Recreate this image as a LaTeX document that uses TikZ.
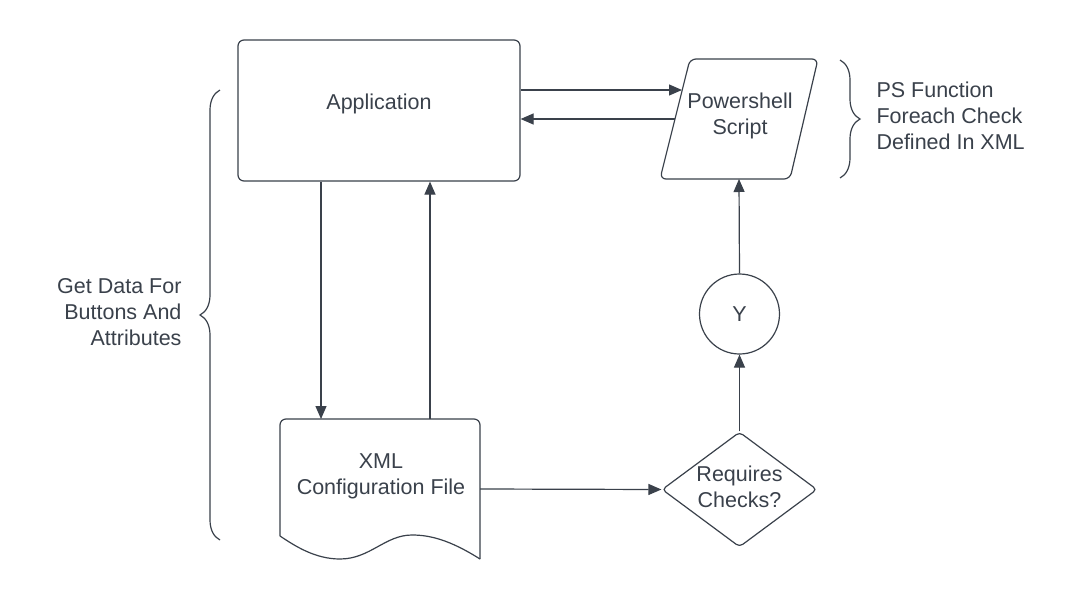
\documentclass[tikz,border=0pt]{standalone}
\usepackage{fontspec}
\setmainfont{Liberation Sans}
\usetikzlibrary{arrows.meta,shapes.geometric,decorations.pathreplacing}
\definecolor{ln}{HTML}{3A414B}
\definecolor{tx}{HTML}{3A414B}
\begin{document}
\begin{tikzpicture}[x=1pt,y=-1pt,
  every node/.style={text=tx,font=\fontsize{21.5}{26}\selectfont},
  shp/.style={draw=ln,line width=1.2pt,fill=white},
  conn/.style={draw=ln,line width=1.2pt,-{Triangle[length=13pt,width=11pt]}},
  plain/.style={draw=ln,line width=1.2pt},
  brc/.style={draw=ln,line width=1.2pt,decorate,decoration={brace,amplitude=20pt}}]
\useasboundingbox[fill=white] (0,0) rectangle (1080,600);
% Application
\node[shp,rounded corners=6pt,minimum width=282pt,minimum height=141pt,inner sep=0pt] (app) at (379,110.5) {};
\node (apptxt) at (379,104) {Application};
% Powershell parallelogram
\draw[shp,rounded corners=6pt] (690,59) -- (818,59) -- (790,179) -- (660,179) -- cycle;
\node[align=center] (ps) at (740,116) {Powershell\\Script};
\coordinate (psin) at (682,90);
\coordinate (psout) at (675,119);
\coordinate (psbot) at (739,179);
% XML document
\draw[shp,rounded corners=6pt] (280,536) -- (280,419) -- (480,419) -- (480,559);
\draw[shp] (480,559) .. controls (450,540) and (430,535) .. (412,535)
  .. controls (385,535) and (370,559) .. (340,559)
  .. controls (315,559) and (295,546) .. (280,536);
\node[align=center] (xml) at (381,476) {XML\\Configuration File};
\coordinate (xmltopL) at (321,419);
\coordinate (xmltopR) at (430,419);
\coordinate (xmlright) at (480,489);
% Decision
\node[shp,diamond,rounded corners=4pt,minimum width=155pt,minimum height=115pt,inner sep=0pt] (dec) at (739.5,489.5) {};
\node[align=center] (dectxt) at (739.5,487) {Requires\\Checks?};
% Circle
\node[shp,circle,minimum size=80pt,inner sep=0pt] (y) at (739.5,314) {Y};
% Connectors
\draw[conn] (app.east |- psin) -- (psin);
\draw[conn] (psout) -- (app.east |- psout);
\draw[conn] (app.south -| xmltopL) -- (xmltopL);
\draw[conn] (xmltopR) -- (app.south -| xmltopR);
\draw[conn] (xmlright) -- (dec.west);
\draw[conn] (dec.north) -- (y.south);
\draw[conn] (y.north) -- (psbot);
% Braces
\coordinate (lbtop) at (220,90);
\coordinate (lbbot) at (220,540);
\draw[brc] (lbbot) -- (lbtop);
\coordinate (rbtop) at (840,60);
\coordinate (rbbot) at (840,178);
\draw[brc] (rbtop) -- (rbbot);
\node[align=right,anchor=east] (ltxt) at (185,312) {Get Data For\\Buttons And\\Attributes};
\node[align=left,anchor=west] (rtxt) at (873,116) {PS Function\\Foreach Check\\Defined In XML};
\end{tikzpicture}
\end{document}
